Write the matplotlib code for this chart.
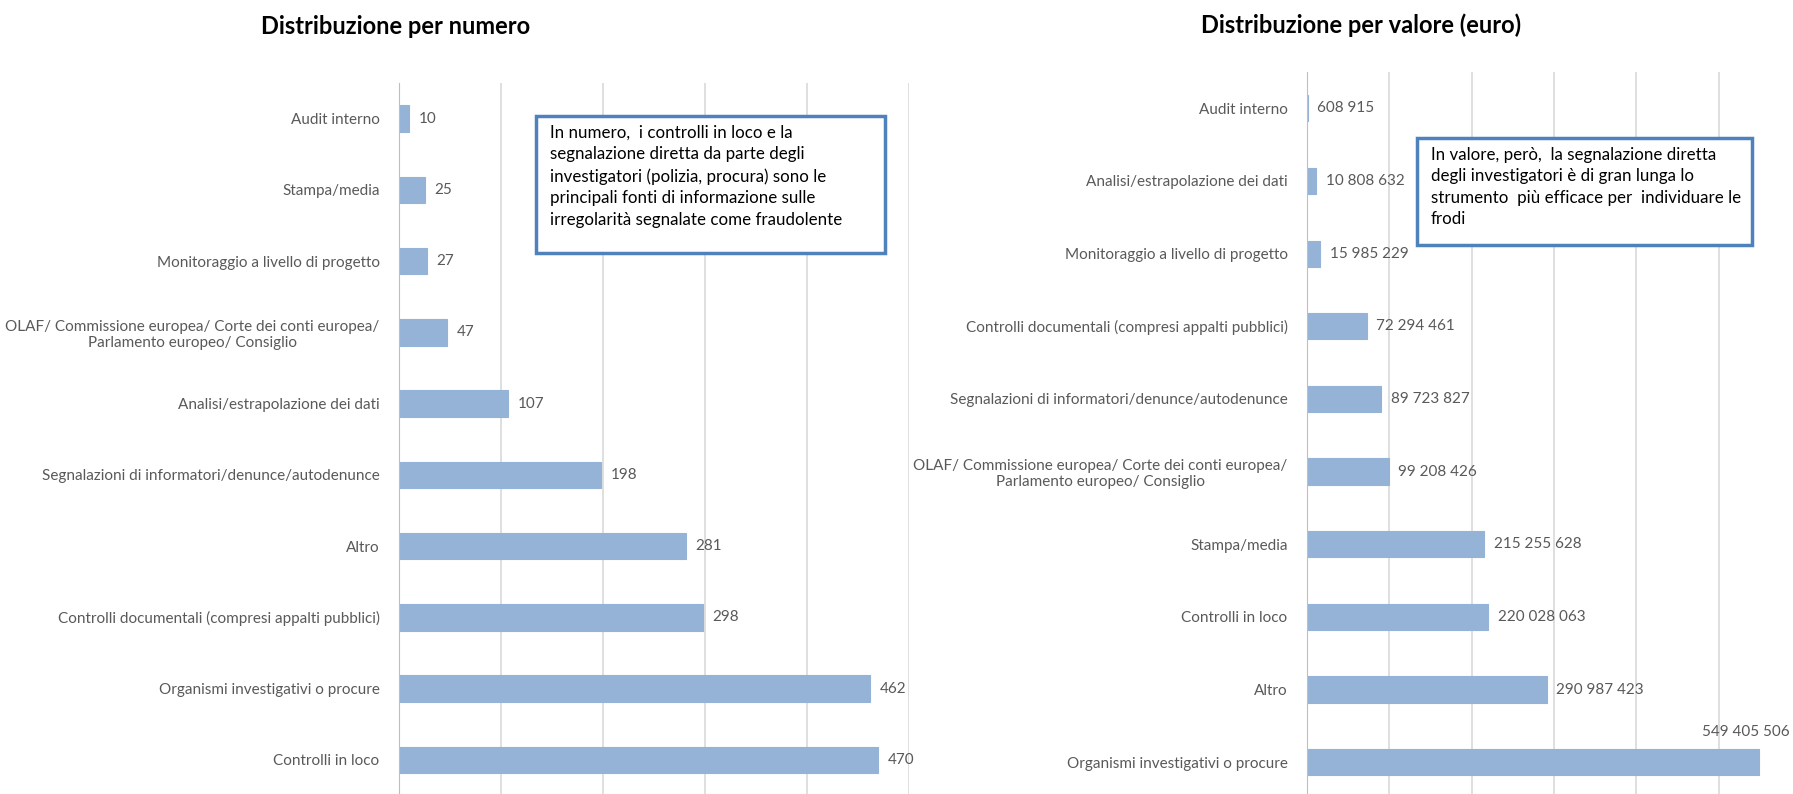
import matplotlib
matplotlib.use("Agg")
import matplotlib.pyplot as plt

plt.rcParams['font.family'] = ['Lato', 'DejaVu Sans']

# ---- data ----
cat_num = ["Audit interno", "Stampa/media", "Monitoraggio a livello di progetto",
           "OLAF/ Commissione europea/ Corte dei conti europea/\nParlamento europeo/ Consiglio",
           "Analisi/estrapolazione dei dati",
           "Segnalazioni di informatori/denunce/autodenunce", "Altro",
           "Controlli documentali (compresi appalti pubblici)",
           "Organismi investigativi o procure", "Controlli in loco"]
val_num = [10, 25, 27, 47, 107, 198, 281, 298, 462, 470]

cat_val = ["Audit interno", "Analisi/estrapolazione dei dati",
           "Monitoraggio a livello di progetto",
           "Controlli documentali (compresi appalti pubblici)",
           "Segnalazioni di informatori/denunce/autodenunce",
           "OLAF/ Commissione europea/ Corte dei conti europea/\nParlamento europeo/ Consiglio",
           "Stampa/media", "Controlli in loco", "Altro",
           "Organismi investigativi o procure"]
val_val = [608915, 10808632, 15985229, 72294461, 89723827, 99208426,
           215255628, 220028063, 290987423, 549405506]

title_num = "Distribuzione per numero"
title_val = "Distribuzione per valore (euro)"
note_num = ("In numero,  i controlli in loco e la\n"
            "segnalazione diretta da parte degli\n"
            "investigatori (polizia, procura) sono le\n"
            "principali fonti di informazione sulle\n"
            "irregolarità segnalate come fraudolente")
note_val = ("In valore, però,  la segnalazione diretta\n"
            "degli investigatori è di gran lunga lo\n"
            "strumento  più efficace per  individuare le\n"
            "frodi")

BAR = "#95B3D7"
GRID = "#D9D9D9"
TXT = "#595959"
BOX = "#4F81BD"

W, H = 1793, 794
fig = plt.figure(figsize=(W / 100, H / 100), dpi=100)


def fx(px):
    return px / W


def fy(py):
    return 1 - py / H


def style(ax):
    ax.invert_yaxis()
    for s in ["top", "right", "bottom"]:
        ax.spines[s].set_visible(False)
    ax.spines["left"].set_color("#BFBFBF")
    ax.xaxis.grid(True, color=GRID, linewidth=1.2)
    ax.set_axisbelow(True)
    ax.tick_params(axis="x", length=0, labelbottom=False)
    ax.tick_params(axis="y", length=0, pad=14, labelcolor=TXT, labelsize=11)
    for t in ax.get_yticklabels():
        t.set_multialignment("center")


# left chart
ax1 = fig.add_axes([fx(399), fy(795.5), fx(909 - 399), (795.5 - 83) / H])
y1 = list(range(len(cat_num)))
ax1.barh(y1, val_num, height=0.37, color=BAR, edgecolor=BAR, linewidth=0.8)
ax1.set_yticks(y1)
ax1.set_yticklabels(cat_num)
ax1.set_xlim(0, 500)
ax1.set_xticks([0, 100, 200, 300, 400, 500])
ax1.set_ylim(-0.5, len(cat_num) - 0.5)
style(ax1)
for y, v in zip(y1, val_num):
    ax1.annotate(f"{v}", (v, y), xytext=(7, 0), textcoords="offset points",
                 va="center", ha="left", fontsize=11, color=TXT)

# right chart
ax2 = fig.add_axes([fx(1307), fy(798.5), fx(1801 - 1307), (798.5 - 72) / H])
y2 = list(range(len(cat_val)))
ax2.barh(y2, val_val, height=0.36, color=BAR, edgecolor=BAR, linewidth=0.8)
ax2.set_yticks(y2)
ax2.set_yticklabels(cat_val)
ax2.set_xlim(0, 600e6)
ax2.set_xticks([i * 100e6 for i in range(7)])
ax2.set_ylim(-0.5, len(cat_val) - 0.5)
style(ax2)


def fmt(v):
    return f"{v:,}".replace(",", " ")


for y, v in zip(y2, val_val):
    if v > 500e6:
        ax2.annotate(fmt(v), (v, y), xytext=(22, 22), textcoords="offset points",
                     va="center", ha="right", fontsize=11, color=TXT,
                     annotation_clip=False)
    else:
        ax2.annotate(fmt(v), (v, y), xytext=(7, 0), textcoords="offset points",
                     va="center", ha="left", fontsize=11, color=TXT)

# titles
fig.text(fx(396), fy(27), title_num, ha="center", va="center",
         fontsize=17, fontweight="bold", color="black")
fig.text(fx(1361), fy(25), title_val, ha="center", va="center",
         fontsize=17, fontweight="bold", color="black")


# note boxes
def note(x0, y0, x1, y1, text, tx, ty):
    r = plt.Rectangle((fx(x0), fy(y1)), fx(x1 - x0), (y1 - y0) / H,
                      transform=fig.transFigure, facecolor="white",
                      edgecolor=BOX, linewidth=2.5, zorder=5)
    fig.add_artist(r)
    fig.text(fx(tx), fy(ty), text, ha="left", va="top", fontsize=12.2,
             color="black", linespacing=1.42, zorder=6)


note(536, 116, 885, 253, note_num, 550, 125)
note(1417, 138, 1752, 245, note_val, 1431, 147)

fig.savefig("out.png", dpi=100, facecolor="white")
